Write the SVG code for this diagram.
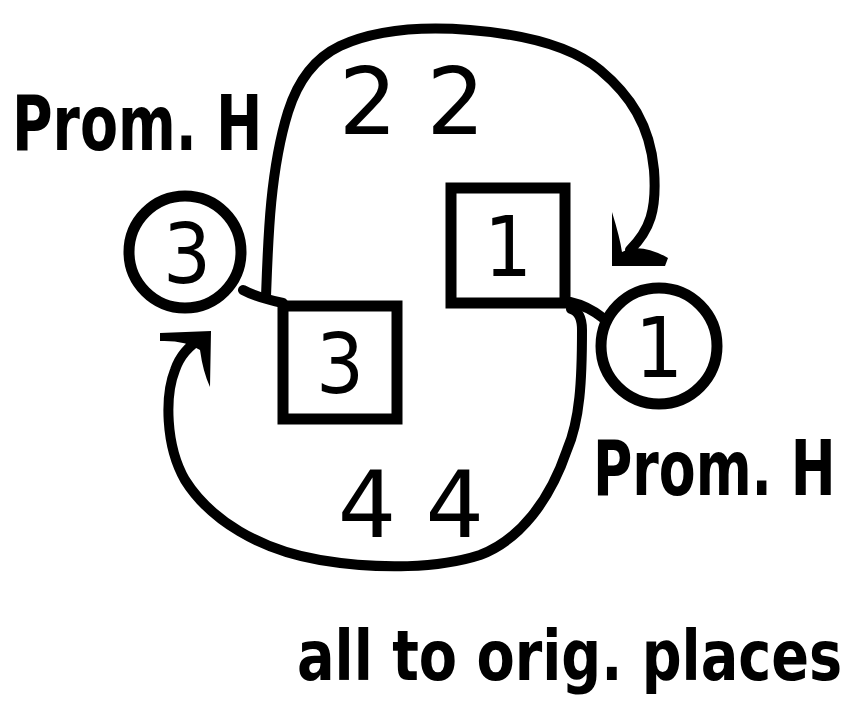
<svg xmlns="http://www.w3.org/2000/svg" width="858" height="707" viewBox="0 0 858 707">
<style>
.ln{fill:none;stroke:#000;stroke-width:10;stroke-linecap:round;stroke-linejoin:round}
.nd{fill:#fff;stroke:#000;stroke-width:11}
.dg{font-family:"DejaVu Sans Condensed","DejaVu Sans",sans-serif;font-size:84px;fill:#000;text-anchor:middle}
.nm{font-family:"DejaVu Sans",sans-serif;font-size:92px;fill:#000;text-anchor:middle}
.lb{font-family:"DejaVu Sans Condensed","DejaVu Sans",sans-serif;font-weight:bold;fill:#000}
</style>
<rect width="858" height="707" fill="#fff"/>
<g id="connectors">
<path class="ln" d="M243,290 Q258,298 283,303"/>
<path class="ln" d="M570,302 Q588,306 603,318"/>
<path class="ln" d="M266,297 C268,240 270,170 288,112 C298,80 315,58 340,46 C375,30 420,26 470,30 C520,34 570,45 600,70 C630,95 650,125 654,170 C657,210 650,230 630,250"/>
<path d="M612,212 Q620,238 622,252 Q640,242 668,258 L665,266 L612,266 Z" fill="#000"/>
<path class="ln" d="M571,309 Q582,312 582,330 C582,380 580,420 567,450 C550,500 520,540 480,555 C440,568 380,570 320,560 C260,550 210,520 185,480 C165,445 165,395 175,370 C180,355 190,345 202,338"/>
<path d="M160,333 L211,331 L210,387 Q203,372 200,350 Q185,340 160,341 Z" fill="#000"/>
</g>
<g id="node-c3">
<circle class="nd" cx="185" cy="252" r="56"/>
<text class="dg" x="187" y="283">3</text>
</g>
<g id="node-b3">
<rect class="nd" x="283" y="306" width="114" height="113"/>
<text class="dg" x="340" y="393">3</text>
</g>
<g id="node-b1">
<rect class="nd" x="451" y="188" width="114" height="115"/>
<text class="dg" x="508" y="276">1</text>
</g>
<g id="node-c1">
<circle class="nd" cx="659" cy="346" r="58"/>
<text class="dg" x="659" y="377">1</text>
</g>
<g id="labels">
<text class="lb" transform="translate(12,150) scale(0.81,1)" font-size="76">Prom. H</text>
<text class="lb" transform="translate(593,495) scale(0.785,1)" font-size="76">Prom. H</text>
<text class="nm" x="412" y="134">2 2</text>
<text class="nm" x="411" y="537">4 4</text>
<text class="lb" transform="translate(297,680) scale(0.885,1)" font-size="70">all to orig. places</text>
</g>
</svg>
